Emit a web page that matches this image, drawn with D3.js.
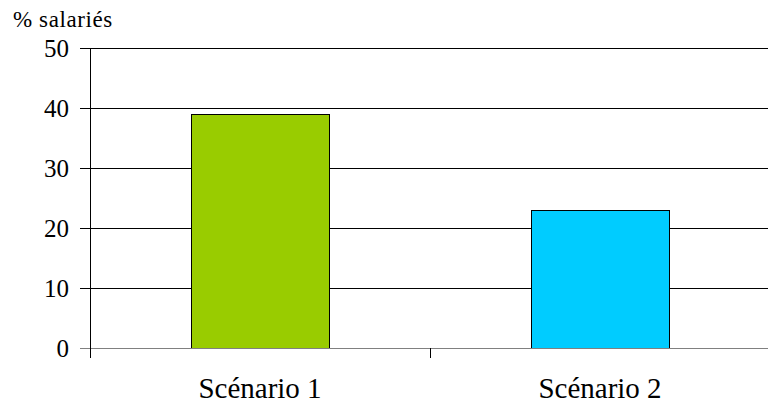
<!DOCTYPE html>
<html><head><meta charset="utf-8">
<script src="https://cdn.jsdelivr.net/npm/d3@7"></script>
</head><body style="margin:0">
<svg id="c" width="768" height="411"></svg>
<script>
const categories = ["Scénario 1", "Scénario 2"];
const values = [39, 23];
const colors = ["#99CC00", "#00CCFF"];
const yTicks = [0, 10, 20, 30, 40, 50];
const yLabel = "% salariés";

const svg = d3.select("#c");
const W = 768, pLeft = 90, pRight = 770, pTop = 48, pBottom = 348;
const y = d3.scaleLinear().domain([0, 50]).range([pBottom, pTop]);
const x = d3.scaleBand().domain(categories).range([pLeft, pRight]).paddingInner(0.594).paddingOuter(0.297);
const gap = (x.step() - x.bandwidth()) / 2;
const fontStyle = size => `font-family:'Liberation Serif','Times New Roman',Tinos,serif !important;font-size:${size}px`;

// gridlines
svg.append("g").selectAll("line").data(yTicks.filter(d => d > 0)).join("line")
  .attr("x1", pLeft - 10).attr("x2", W).attr("y1", d => y(d) + 0.5).attr("y2", d => y(d) + 0.5)
  .attr("stroke", "#000").attr("stroke-width", 1);

// bars
svg.append("g").selectAll("rect").data(values).join("rect")
  .attr("x", (d, i) => Math.round(x(categories[i])) + 0.5).attr("width", Math.round(x.bandwidth()))
  .attr("y", d => y(d) + 0.5).attr("height", d => y(0) - y(d))
  .attr("fill", (d, i) => colors[i]).attr("stroke", "#000").attr("stroke-width", 1);

// zero line
svg.append("line").attr("x1", pLeft - 10).attr("x2", W).attr("y1", y(0) + 0.5).attr("y2", y(0) + 0.5)
  .attr("stroke", "#808080").attr("stroke-width", 1);

// y axis line
svg.append("line").attr("x1", pLeft + 0.5).attr("x2", pLeft + 0.5).attr("y1", pTop).attr("y2", pBottom + 10)
  .attr("stroke", "#000").attr("stroke-width", 1);

// category tick mark between categories
svg.append("g").selectAll("line").data(categories.slice(1)).join("line")
  .attr("x1", d => Math.round(x(d) - gap) + 0.5).attr("x2", d => Math.round(x(d) - gap) + 0.5)
  .attr("y1", y(0)).attr("y2", y(0) + 10)
  .attr("stroke", "#000").attr("stroke-width", 1);

// y tick labels
svg.append("g").selectAll("text").data(yTicks).join("text")
  .attr("x", 69).attr("y", d => y(d) + 8.5)
  .attr("text-anchor", "end").attr("style", fontStyle(25)).text(d => d);

// category labels
svg.append("g").selectAll("text").data(categories).join("text")
  .attr("x", d => x(d) + x.bandwidth() / 2).attr("y", 398)
  .attr("text-anchor", "middle").attr("style", fontStyle(29)).text(d => d);

// y label
svg.append("text").attr("x", 13).attr("y", 27).attr("style", fontStyle(23))
  .attr("letter-spacing", "0.6px").text(yLabel);
</script>
</body></html>
